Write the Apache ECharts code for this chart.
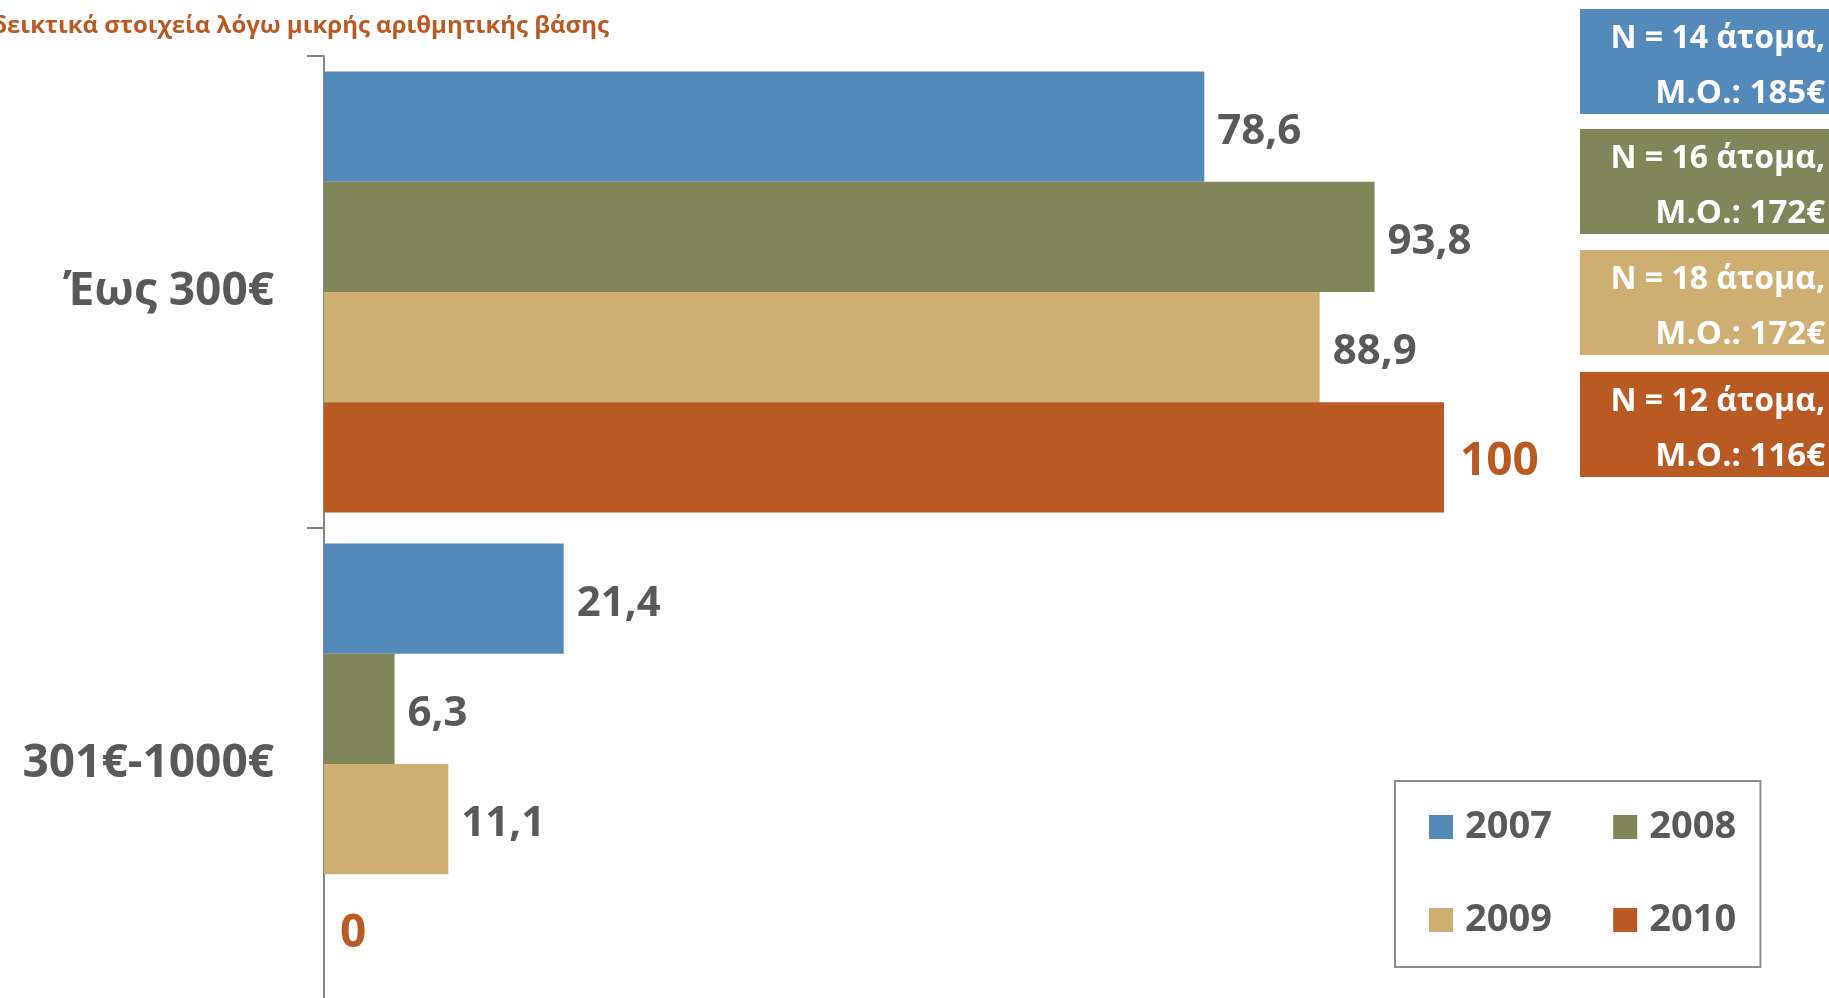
<!DOCTYPE html>
<html>
<head>
<meta charset="utf-8">
<script src="https://cdn.jsdelivr.net/npm/echarts@6/dist/echarts.min.js"></script>
<style>
html,body{margin:0;padding:0;background:#fff;}
#chart{width:1829px;height:998px;}
</style>
</head>
<body>
<div id="chart"></div>
<script>
const categories = ['Έως 300€', '301€-1000€'];
const years = ['2007', '2008', '2009', '2010'];
const values2007 = [78.6, 21.4];
const values2008 = [93.8, 6.3];
const values2009 = [88.9, 11.1];
const values2010 = [100, 0];
const sampleN = [14, 16, 18, 12];
const meanEuro = [185, 172, 172, 116];
const noteText = 'Ενδεικτικά στοιχεία λόγω μικρής αριθμητικής βάσης';

const colors = ['#548ab9', '#80865a', '#cfae72', '#b95a23'];
const FONT = '"Open Sans", "Noto Sans", sans-serif';
const seriesValues = [values2007, values2008, values2009, values2010];

const fmt = p => String(p.value).replace('.', ',');

const series = years.map((y, i) => ({
  name: y,
  type: 'bar',
  data: seriesValues[i],
  barGap: '0%',
  barCategoryGap: '6.6%',
  itemStyle: { color: colors[i] },
  label: {
    show: true,
    position: 'right',
    distance: i === 3 ? 16 : 13,
    offset: [0, 5],
    formatter: fmt,
    color: i === 3 ? colors[3] : '#595959',
    fontFamily: FONT,
    fontWeight: 'bold',
    fontSize: i === 3 ? 46 : 42
  }
}));

const graphics = [{
  type: 'text',
  x: 609, y: 26,
  style: {
    text: noteText,
    fill: '#b95a23',
    font: 'bold 24px "Open Sans", sans-serif',
    textAlign: 'right',
    textVerticalAlign: 'middle'
  }
}];
const boxTops = [9, 129, 250, 372];
years.forEach((y, i) => {
  graphics.push({
    type: 'rect',
    shape: { x: 1580, y: boxTops[i], width: 260, height: 105 },
    style: { fill: colors[i] }
  });
  graphics.push({
    type: 'text',
    x: 1825, y: boxTops[i] + 30,
    style: {
      text: 'N = ' + sampleN[i] + ' άτομα,',
      fill: '#fff',
      font: 'bold 32px "Open Sans", sans-serif',
      textAlign: 'right',
      textVerticalAlign: 'middle'
    }
  });
  graphics.push({
    type: 'text',
    x: 1825, y: boxTops[i] + 85,
    style: {
      text: 'Μ.Ο.: ' + meanEuro[i] + '€',
      fill: '#fff',
      font: 'bold 33px "Open Sans", sans-serif',
      textAlign: 'right',
      textVerticalAlign: 'middle'
    }
  });
});

const chart = echarts.init(document.getElementById('chart'));
chart.setOption({
  animation: false,
  color: colors,
  grid: { left: 324, top: 56, width: 1120, height: 944, outerBoundsMode: 'none', containLabel: false },
  xAxis: {
    type: 'value', min: 0, max: 100,
    show: false
  },
  yAxis: {
    type: 'category',
    data: categories,
    inverse: true,
    axisLine: { show: true, lineStyle: { color: '#868686', width: 2 } },
    axisTick: { show: true, inside: false, length: 17, lineStyle: { color: '#868686', width: 2 } },
    axisLabel: {
      margin: 50,
      color: '#595959',
      fontFamily: FONT,
      fontWeight: 'bold',
      fontSize: 46
    }
  },
  legend: {
    data: years,
    left: 1395, top: 781,
    width: 330,
    padding: [27, 18, 28, 34],
    itemGap: 55,
    itemWidth: 24, itemHeight: 24,
    icon: 'rect',
    borderColor: '#8c8c8c',
    borderWidth: 2,
    formatter: name => name + '\u2009',
    textStyle: {
      color: '#595959',
      fontFamily: FONT,
      fontWeight: 'bold',
      fontSize: 38,
      padding: [0, 0, 0, 7]
    }
  },
  graphic: graphics,
  series: series
});
</script>
</body>
</html>
